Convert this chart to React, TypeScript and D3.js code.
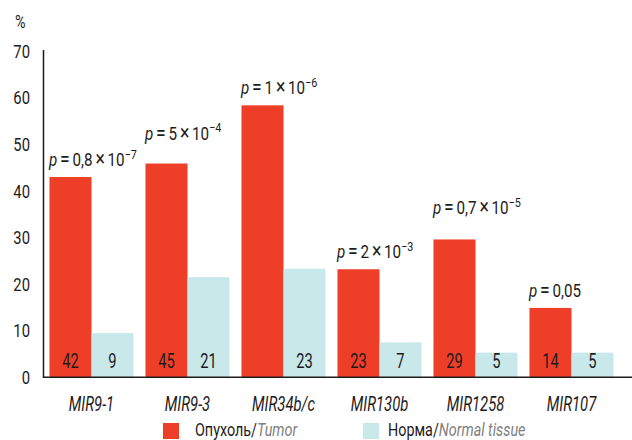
import React from "react";
import * as d3 from "d3";

const categories = ["MIR9-1", "MIR9-3", "MIR34b/c", "MIR130b", "MIR1258", "MIR107"];
const tumorValues = [43, 45.9, 58.4, 23.2, 29.6, 14.9];
const normalValues = [9.5, 21.5, 23.3, 7.5, 5.3, 5.3];
const tumorLabels = ["42", "45", "", "23", "29", "14"];
const normalLabels = ["9", "21", "23", "7", "5", "5"];
const pMantissa = ["0,8", "5", "1", "2", "0,7", "0,05"];
const pExponent = ["\u22127", "\u22124", "\u22126", "\u22123", "\u22125", ""];
const yTicks = [0, 10, 20, 30, 40, 50, 60, 70];

// layout (annotation lift in px)
const pLift = [0, 13, 0, 0, 14, 0];

const W = 632;
const H = 440;
const FONT = "Roboto, 'Noto Sans', sans-serif";
const RED = "#EE3E28";
const BLUE = "#C9E8EA";
const INK = "#1E1B1C";
const GREY = "#808080";

function T(props: {
  x: number;
  y: number;
  sx: number;
  size: number;
  anchor?: string;
  italic?: boolean;
  fill?: string;
  children?: React.ReactNode;
}) {
  const { x, y, sx, size, anchor = "start", italic, fill = INK, children } = props;
  return (
    <text
      transform={`translate(${x},${y}) scale(${sx},1)`}
      fontSize={size}
      textAnchor={anchor}
      fontStyle={italic ? "italic" : "normal"}
      fill={fill}
    >
      {children}
    </text>
  );
}

export default function App() {
  const y = d3.scaleLinear().domain([0, 70]).range([377.3, 51.3]);
  const x = d3
    .scaleBand<string>()
    .domain(categories)
    .range([43.5, 619.5])
    .paddingInner(0.125)
    .paddingOuter(0.0625);
  const x1 = d3.scaleBand<string>().domain(["t", "n"]).range([0, x.bandwidth()]);
  const bw = x1.bandwidth();

  return (
    <svg
      width={W}
      height={H}
      style={{ position: "absolute", left: 0, top: 0, background: "#fff" }}
      fontFamily={FONT}
    >
      {/* y tick labels */}
      {yTicks.map((t) => (
        <T key={t} x={30} y={y(t) + 6.5} sx={0.8} size={18.5} anchor="end">
          {t}
        </T>
      ))}
      <T x={15} y={28} sx={0.8} size={18}>%</T>

      {/* bars */}
      {categories.map((c, i) => {
        const gx = x(c)!;
        return (
          <g key={c}>
            <rect x={gx + x1("t")!} y={y(tumorValues[i])} width={bw} height={y(0) - y(tumorValues[i])} fill={RED} />
            <rect x={gx + x1("n")!} y={y(normalValues[i])} width={bw} height={y(0) - y(normalValues[i])} fill={BLUE} />
          </g>
        );
      })}
      {categories.map((c, i) => {
        const gx = x(c)!;
        return (
          <g key={c + "-t"}>
            <T x={gx + x1("t")! + bw / 2} y={y(0) - 9} sx={0.7} size={21} anchor="middle">
              {tumorLabels[i]}
            </T>
            <T x={gx + x1("n")! + bw / 2} y={y(0) - 9} sx={0.7} size={21} anchor="middle">
              {normalLabels[i]}
            </T>
            <T x={gx + x.bandwidth() / 2} y={411} sx={0.74} size={20} anchor="middle" italic>
              {c}
            </T>
            <T x={gx + x1("t")! - 0.5} y={y(tumorValues[i]) - 11 - pLift[i]} sx={0.8} size={19}>
              <tspan fontStyle="italic">p</tspan>
              <tspan dx={3.5} fontSize={22}>=</tspan>
              <tspan dx={3.5}>{pMantissa[i]}</tspan>
              {pExponent[i] ? (
                <>
                  <tspan dx={3.5} fontSize={22}>{"\u00D7"}</tspan>
                  <tspan dx={3.5}>10</tspan>
                  <tspan dy={-7.5} fontSize={13.5}>{pExponent[i]}</tspan>
                </>
              ) : null}
            </T>
          </g>
        );
      })}

      {/* axes */}
      <line x1={43.5} x2={43.5} y1={50} y2={377.5} stroke={INK} strokeWidth={1.5} />
      <line x1={42.8} x2={632} y1={377.3} y2={377.3} stroke={INK} strokeWidth={1.5} />

      {/* legend */}
      <rect x={163} y={423} width={16} height={16} fill={RED} />
      <T x={195} y={435.5} sx={0.82} size={17.5}>
        Опухоль/<tspan fontStyle="italic" fill={GREY}>Tumor</tspan>
      </T>
      <rect x={363} y={423} width={16} height={16} fill={BLUE} />
      <T x={388} y={435.5} sx={0.82} size={17.5}>
        Норма/<tspan fontStyle="italic" fill={GREY}>Normal tissue</tspan>
      </T>
    </svg>
  );
}
